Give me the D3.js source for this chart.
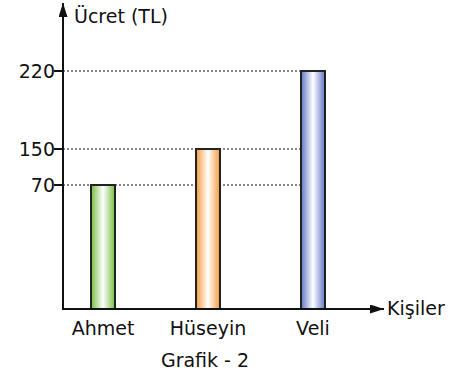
<!DOCTYPE html>
<html>
<head>
<meta charset="utf-8">
<script src="https://cdn.jsdelivr.net/npm/d3@7"></script>
<style>
  body { margin: 0; background: #fff; }
  text { font-family: "Comic Sans MS", "DejaVu Sans", sans-serif; fill: #111; }
</style>
</head>
<body>
<svg width="453" height="378"></svg>
<script>
// data
var people = ["Ahmet", "Hüseyin", "Veli"];
var wages = [70, 150, 220];
var tickValues = [70, 150, 220];
var barColors = ["#76bf3f", "#f59a3e", "#6275c4"];

var svg = d3.select("svg");

var baseY = 309, axisX = 63;

// the drawing is not to scale, so the y scale is piecewise
var y = d3.scaleLinear().domain([0, 70, 150, 220]).range([baseY, 185, 149, 71]);
var x = d3.scalePoint().domain(people).range([103, 313]);
var barW = 24;

// gradients for the bars
var defs = svg.append("defs");
barColors.forEach(function(c, i) {
    var g = defs.append("linearGradient").attr("id", "g" + i)
        .attr("x1", "0%").attr("x2", "100%").attr("y1", "0%").attr("y2", "0%");
    g.append("stop").attr("offset", "0%").attr("stop-color", c);
    g.append("stop").attr("offset", "50%").attr("stop-color", "#ffffff");
    g.append("stop").attr("offset", "100%").attr("stop-color", c);
});
defs.append("marker").attr("id", "arr")
    .attr("viewBox", "0 0 14 9").attr("refX", 14).attr("refY", 4.5)
    .attr("markerWidth", 14).attr("markerHeight", 9).attr("markerUnits", "userSpaceOnUse")
    .attr("orient", "auto")
    .append("path").attr("d", "M0,0L14,4.5L0,9Z").attr("fill", "#111");

// dotted guide lines
var lineEnd = x("Veli") - barW / 2;
svg.append("g").selectAll("line")
    .data(tickValues).enter().append("line")
    .attr("x1", axisX).attr("x2", lineEnd)
    .attr("y1", function(d) { return y(d); })
    .attr("y2", function(d) { return y(d); })
    .attr("stroke", "#111").attr("stroke-width", 1)
    .attr("stroke-dasharray", "2,2");

// bars
svg.append("g").selectAll("rect")
    .data(wages).enter().append("rect")
    .attr("x", function(d, i) { return x(people[i]) - barW / 2; })
    .attr("y", function(d) { return y(d); })
    .attr("width", barW)
    .attr("height", function(d) { return baseY - y(d); })
    .attr("fill", function(d, i) { return "url(#g" + i + ")"; })
    .attr("stroke", "#222").attr("stroke-width", 2);

// axes
svg.append("line").attr("x1", axisX).attr("x2", axisX)
    .attr("y1", baseY).attr("y2", 3)
    .attr("stroke", "#111").attr("stroke-width", 2)
    .attr("marker-end", "url(#arr)");
svg.append("line").attr("x1", axisX - 1).attr("x2", 384)
    .attr("y1", baseY).attr("y2", baseY)
    .attr("stroke", "#111").attr("stroke-width", 2)
    .attr("marker-end", "url(#arr)");

// y ticks
var ticks = svg.append("g").selectAll("g")
    .data(tickValues).enter().append("g")
    .attr("transform", function(d) { return "translate(0," + y(d) + ")"; });
ticks.append("line").attr("x1", axisX - 9).attr("x2", axisX + 1)
    .attr("stroke", "#111").attr("stroke-width", 2);
ticks.append("text").attr("x", axisX - 8).attr("dy", "0.35em")
    .attr("text-anchor", "end").attr("font-size", 19)
    .text(function(d) { return d; });

// x labels
svg.append("g").selectAll("text")
    .data(people).enter().append("text")
    .attr("x", function(d) { return x(d); }).attr("y", 335)
    .attr("text-anchor", "middle").attr("font-size", 19)
    .text(function(d) { return d; });

svg.append("text").attr("x", 74).attr("y", 23).attr("font-size", 19).text("Ücret (TL)");
svg.append("text").attr("x", 387).attr("y", 315).attr("font-size", 19).text("Kişiler");
svg.append("text").attr("x", 205).attr("y", 367).attr("text-anchor", "middle")
    .attr("font-size", 19).text("Grafik - 2");
</script>
</body>
</html>
